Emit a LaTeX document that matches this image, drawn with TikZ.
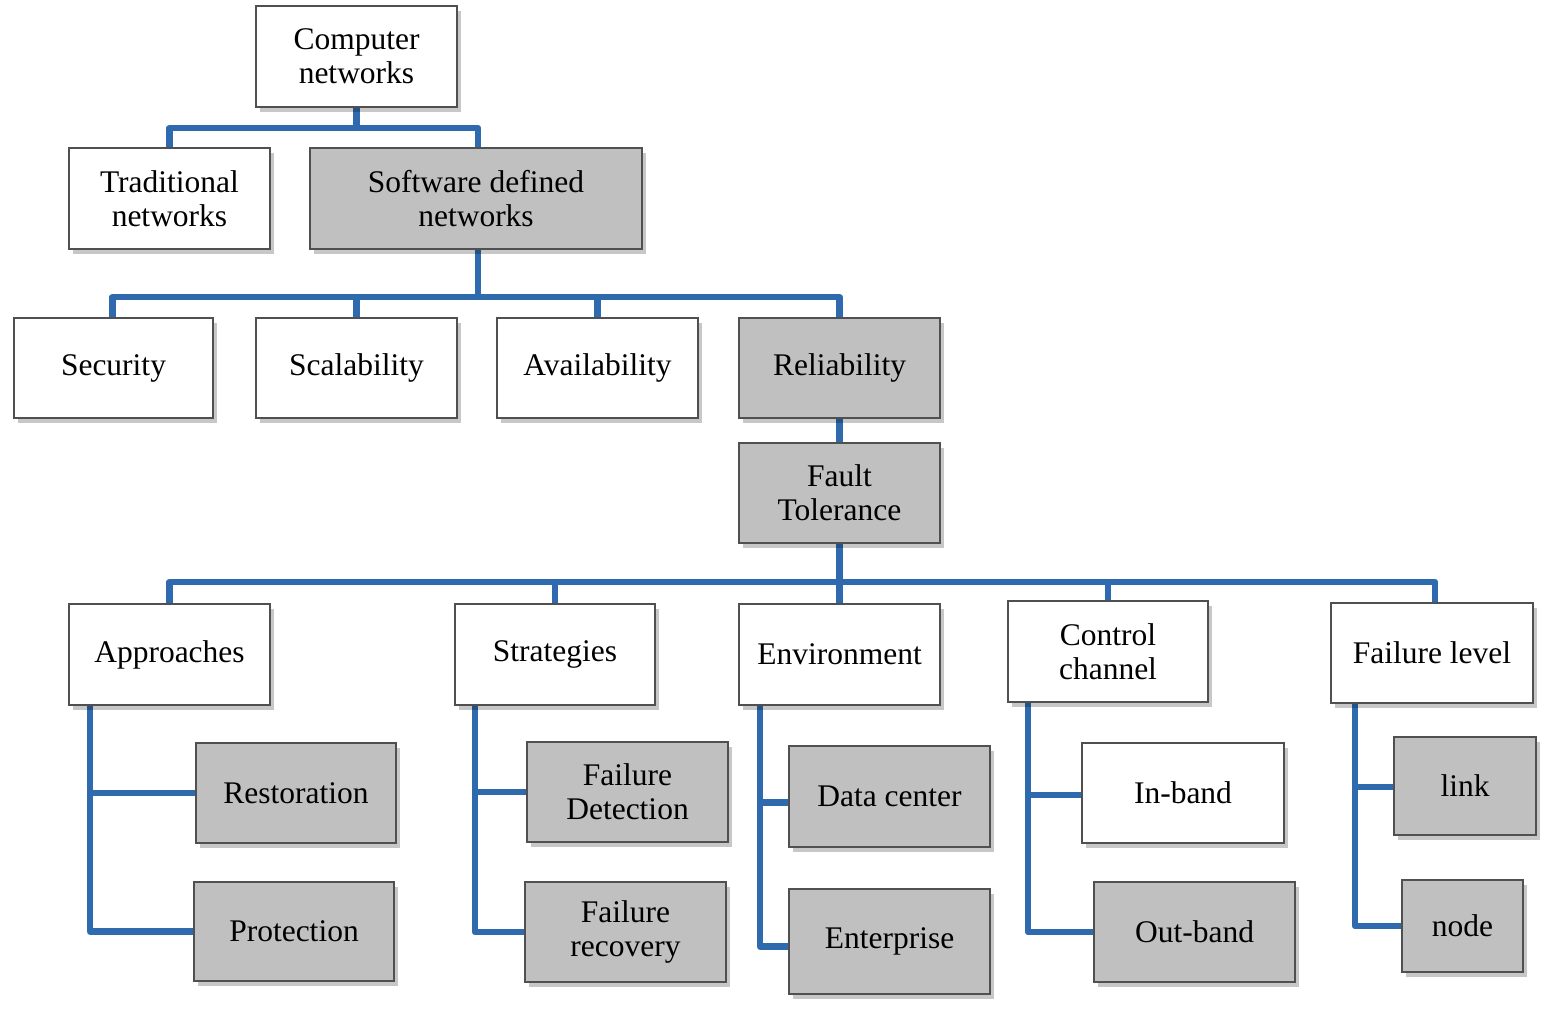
\documentclass[tikz,border=0pt]{standalone}
\usepackage{fontspec}
\setmainfont{Liberation Serif}
\usetikzlibrary{shadows}
\pgfdeclarelayer{bg}
\pgfsetlayers{bg,main}
\definecolor{linkblue}{HTML}{2E6AAD}
\definecolor{boxgray}{HTML}{C0C0C0}
\definecolor{edgegray}{HTML}{505050}
\tikzset{
  box/.style={draw=edgegray, line width=1.8pt, inner sep=0pt, outer sep=0pt, align=center,
    font=\fontsize{31.5}{34}\selectfont,
    drop shadow={shadow xshift=4pt, shadow yshift=-5pt, opacity=0.22, fill=black}},
  wbox/.style={box, fill=white},
  gbox/.style={box, fill=boxgray},
  conn/.style={draw=linkblue, line width=6.5pt, line join=round, line cap=butt},
}
\newcommand{\bx}[7]{% style, name, left, top, right, bottom, text
  \node[#1, minimum width={(#5-#3)*1pt}, minimum height={(#6-#4)*1pt}] (#2) at ({(#3+#5)/2},{(#4+#6)/2+2}) {#7};}
\begin{document}
\begin{tikzpicture}[x=1pt,y=-1pt]
\useasboundingbox (0,0) rectangle (1550,1014);
\begin{pgfonlayer}{bg}
\fill[white] (0,0) rectangle (1550,1014);
\end{pgfonlayer}
\bx{wbox}{cn}{256}{4}{457}{105}{Computer\\networks}
\bx{wbox}{trad}{69}{146}{270}{247}{Traditional\\networks}
\bx{gbox}{sdn}{310}{146}{642}{247}{Software defined\\networks}
\bx{wbox}{sec}{14}{316}{213}{416}{Security}
\bx{wbox}{sca}{256}{316}{457}{416}{Scalability}
\bx{wbox}{ava}{497}{316}{698}{416}{Availability}
\bx{gbox}{rel}{739}{316}{940}{416}{Reliability}
\bx{gbox}{ft}{739}{441}{940}{541}{Fault\\Tolerance}
\bx{wbox}{app}{69}{602}{270}{703}{Approaches}
\bx{wbox}{str}{455}{602}{655}{703}{Strategies}
\bx{wbox}{env}{739}{602}{940}{703}{Environment}
\bx{wbox}{cc}{1008}{599}{1208}{700}{Control\\channel}
\bx{wbox}{fl}{1331}{601}{1533}{701}{Failure level}
\bx{gbox}{rest}{196}{741}{396}{841}{Restoration}
\bx{gbox}{prot}{194}{880}{394}{979}{Protection}
\bx{gbox}{fd}{527}{740}{728}{840}{Failure\\Detection}
\bx{gbox}{fr}{525}{880}{726}{980}{Failure\\recovery}
\bx{gbox}{dc}{789}{744}{990}{845}{Data center}
\bx{gbox}{ent}{789}{887}{990}{992}{Enterprise}
\bx{wbox}{inb}{1082}{741}{1284}{841}{In-band}
\bx{gbox}{outb}{1094}{880}{1295}{980}{Out-band}
\bx{gbox}{link}{1394}{735}{1536}{833}{link}
\bx{gbox}{nd}{1402}{878}{1523}{970}{node}
\coordinate (b1) at (356.5,128);
\coordinate (b2) at (478,297);
\coordinate (b3) at (839.5,582);
\begin{pgfonlayer}{bg}
\draw[conn] (cn.south) -- (b1);
\draw[conn] (b1) -| (trad.north);
\draw[conn] (b1) -| ([xshift=2pt]sdn.north);
\draw[conn] ([xshift=2pt]sdn.south) -- (b2);
\draw[conn] (b2) -| ([xshift=-1pt]sec.north);
\draw[conn] (b2) -| (sca.north);
\draw[conn] (b2) -| (ava.north);
\draw[conn] (b2) -| (rel.north);
\draw[conn] (rel.south) -- (ft.north);
\draw[conn] (ft.south) -- (b3);
\draw[conn] (b3) -| (app.north);
\draw[conn] (b3) -| (str.north);
\draw[conn] (b3) -- (env.north);
\draw[conn] (b3) -| (cc.north);
\draw[conn] (b3) -| ([xshift=3pt]fl.north);
\draw[conn] ([xshift=21pt]app.south west) |- (rest.west);
\draw[conn] ([xshift=21pt]app.south west) |- (prot.west);
\draw[conn] ([xshift=20pt]str.south west) |- (fd.west);
\draw[conn] ([xshift=20pt]str.south west) |- (fr.west);
\draw[conn] ([xshift=21pt]env.south west) |- ([yshift=-6pt]dc.west);
\draw[conn] ([xshift=21pt]env.south west) |- ([yshift=-5pt]ent.west);
\draw[conn] ([xshift=20pt]cc.south west) |- ([yshift=-2pt]inb.west);
\draw[conn] ([xshift=20pt]cc.south west) |- (outb.west);
\draw[conn] ([xshift=24pt]fl.south west) |- ([yshift=-1pt]link.west);
\draw[conn] ([xshift=24pt]fl.south west) |- (nd.west);
\end{pgfonlayer}
\end{tikzpicture}
\end{document}
